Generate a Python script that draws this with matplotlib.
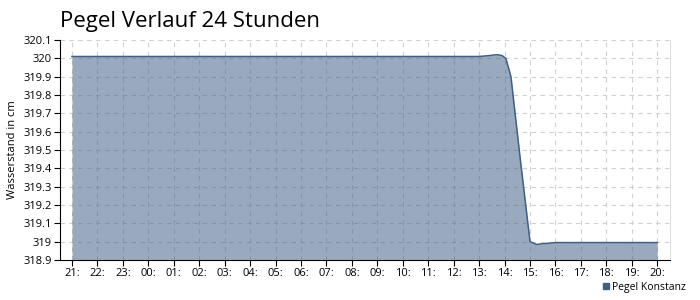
import matplotlib
matplotlib.use("Agg")
import matplotlib.pyplot as plt
from matplotlib.lines import Line2D

plt.rcParams['font.family'] = ['Open Sans', 'DejaVu Sans']

# x ticks: hours of the last 24h
hour_labels = ['21:', '22:', '23:', '00:', '01:', '02:', '03:', '04:', '05:', '06:', '07:', '08:',
               '09:', '10:', '11:', '12:', '13:', '14:', '15:', '16:', '17:', '18:', '19:', '20:']

# time in hours since 21:00 and water level in cm
t = [0, 1, 2, 3, 4, 5, 6, 7, 8, 9, 10, 11, 12, 13, 14, 15, 16, 16.4, 16.7, 16.9,
     17.05, 17.25, 17.6, 18.0, 18.25, 18.6, 19, 20, 21, 22, 23]
level = [320.01, 320.01, 320.01, 320.01, 320.01, 320.01, 320.01, 320.01, 320.01, 320.01,
         320.01, 320.01, 320.01, 320.01, 320.01, 320.01, 320.01, 320.015, 320.02, 320.015,
         320.0, 319.9, 319.47, 319.0, 318.985, 318.99, 318.995, 318.995, 318.995, 318.995, 318.995]

yticks = [318.9, 319, 319.1, 319.2, 319.3, 319.4, 319.5, 319.6, 319.7, 319.8, 319.9, 320, 320.1]

line_col = '#3f5f85'

fig = plt.figure(figsize=(7, 3), dpi=100)
ax = fig.add_axes([60 / 700, 40 / 300, 610 / 700, 220 / 300])

ax.fill_between(t, level, 318.9, color=line_col, alpha=0.53, lw=0)
ax.plot(t, level, color=line_col, lw=1.1)

ax.set_xlim(-0.47, 23.5)
ax.set_ylim(318.9, 320.1)
ax.set_xticks(range(len(hour_labels)))
ax.set_xticklabels(hour_labels)
ax.set_yticks(yticks)
ax.set_yticklabels(['%g' % v for v in yticks])
ax.tick_params(labelsize=8, length=4, color='black', pad=2)
ax.grid(True, ls=(0, (4, 4)), color='#d0d0d0', lw=0.8)
ax.set_axisbelow(True)
ax.spines['top'].set_visible(False)
ax.spines['right'].set_color('#e0e0e0')
ax.set_ylabel('Wasserstand in cm', fontsize=8, labelpad=4)

fig.text(60 / 700, 1 - 22 / 300, 'Pegel Verlauf 24 Stunden', fontsize=16, va='center', ha='left')

handle = Line2D([], [], marker='s', ls='', color=line_col, markersize=5)
fig.legend([handle], ['Pegel Konstanz'], loc='lower right', bbox_to_anchor=(0.99, 0.0),
           fontsize=7.5, frameon=False, handletextpad=0.1, borderaxespad=0.3,
           handlelength=1.0)

fig.savefig('out.png')
